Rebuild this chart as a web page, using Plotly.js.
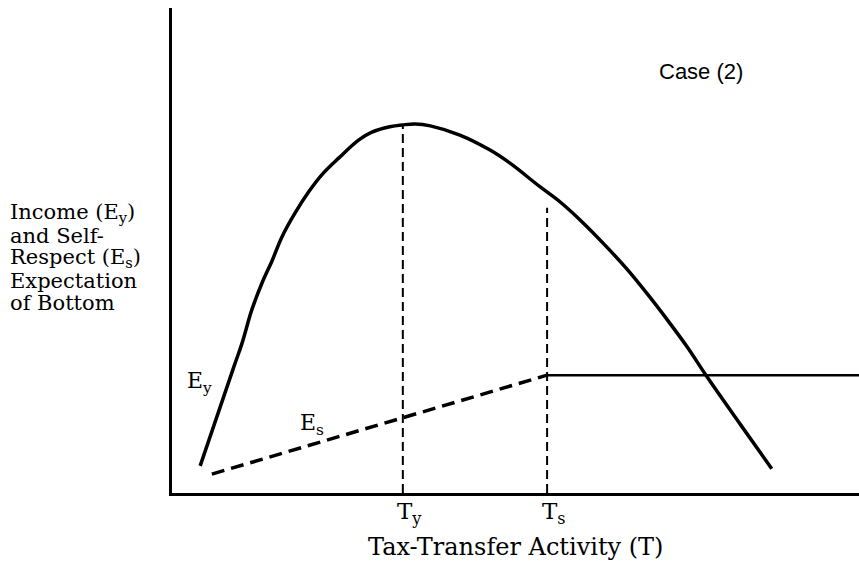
<!DOCTYPE html>
<html>
<head>
<meta charset="utf-8">
<script src="https://cdn.plot.ly/plotly-3.0.1.min.js"></script>
<style>html,body{margin:0;padding:0;background:#fff;}#chart{width:859px;height:562px;}</style>
</head>
<body>
<div id="chart"></div>
<script>
// Tax-transfer activity (T) and expectations (E), arbitrary units 0-100
const eyT = [4.1, 9.0, 10.2, 11.6, 13.1, 14.6, 16.0, 17.9, 19.9, 21.8, 24.3, 27.2, 29.1, 31.7, 33.6, 35.4, 37.6, 41.9, 46.3, 49.2, 53.6, 56.5, 59.4, 63.3, 66.2, 69.1, 72.1, 75.0, 77.9, 82.7, 87.3];
const eyE = [5.6, 26.0, 30.9, 37.7, 43.3, 48.0, 52.8, 57.7, 62.1, 65.6, 69.1, 72.8, 74.4, 75.5, 75.9, 76.1, 75.7, 73.8, 70.7, 68.0, 63.1, 60.0, 56.3, 50.7, 46.2, 41.2, 35.7, 30.1, 23.9, 14.2, 5.0];
const esRiseT = [5.8, 54.6];
const esRiseE = [3.9, 24.3];
const esFlatT = [54.6, 100];
const esFlatE = [24.3, 24.3];
const Ty = 33.6, TyTop = 75.9;
const Ts = 54.6, TsTop = 58.8;
const yLabelLines = ["Income (E<sub>y</sub>)", "and Self-", "Respect (E<sub>s</sub>)", "Expectation", "of Bottom"];
const xTitle = "Tax-Transfer Activity (T)";
const caseLabel = "Case (2)";

const serif = "DejaVu Serif";
const traces = [
  {x: eyT, y: eyE, mode: "lines", line: {color: "#000", width: 3.5, shape: "spline", smoothing: 1.0}, hoverinfo: "skip"},
  {x: esRiseT, y: esRiseE, mode: "lines", line: {color: "#000", width: 3.5, dash: "13px,7px"}, hoverinfo: "skip"},
  {x: esFlatT, y: esFlatE, mode: "lines", line: {color: "#000", width: 2.5}, hoverinfo: "skip"},
  {x: [Ty, Ty], y: [0, TyTop], mode: "lines", line: {color: "#000", width: 2, dash: "9px,5px"}, hoverinfo: "skip"},
  {x: [Ts, Ts], y: [0, TsTop], mode: "lines", line: {color: "#000", width: 2, dash: "9px,5px"}, hoverinfo: "skip"}
];

const ann = [];
yLabelLines.forEach((t, i) => {
  ann.push({xref: "paper", yref: "paper", x: -0.2387, y: 1 - (213 + i * 22.5 - 8) / 485,
    xanchor: "left", yanchor: "middle", text: t, showarrow: false,
    font: {family: serif, size: 21, color: "#000"}});
});
ann.push({xref: "x", yref: "paper", x: Ty, y: 0, yanchor: "middle", yshift: -20, xshift: 7, text: "T<sub>y</sub>", showarrow: false,
  font: {family: serif, size: 23, color: "#000"}});
ann.push({xref: "x", yref: "paper", x: Ts, y: 0, yanchor: "middle", yshift: -20, xshift: 7, text: "T<sub>s</sub>", showarrow: false,
  font: {family: serif, size: 23, color: "#000"}});
ann.push({xref: "paper", yref: "paper", x: 0.5, y: 0, xanchor: "center", yanchor: "middle", yshift: -54, text: xTitle, showarrow: false,
  font: {family: serif, size: 24, color: "#000"}});
ann.push({xref: "x", yref: "y", x: 1.9, y: (493 - 382) / 4.85, text: "E<sub>y</sub>", showarrow: false,
  xanchor: "left", yanchor: "middle", font: {family: serif, size: 22, color: "#000"}});
ann.push({xref: "x", yref: "y", x: 18.3, y: (493 - 424) / 4.85, text: "E<sub>s</sub>", showarrow: false,
  xanchor: "left", yanchor: "middle", font: {family: serif, size: 22, color: "#000"}});
ann.push({xref: "paper", yref: "paper", x: (701 - 172) / 687, y: 1 - (72 - 8) / 485, xanchor: "center", yanchor: "middle",
  text: caseLabel, showarrow: false, font: {family: "Liberation Sans", size: 22, color: "#000"}});

const layout = {
  width: 859, height: 562,
  margin: {l: 172, r: 0, t: 8, b: 69},
  paper_bgcolor: "#fff", plot_bgcolor: "#fff",
  showlegend: false,
  xaxis: {range: [0, 100], showgrid: false, zeroline: false, showticklabels: false, ticks: "",
    showline: true, linecolor: "#000", linewidth: 3, fixedrange: true},
  yaxis: {range: [0, 100], showgrid: false, zeroline: false, showticklabels: false, ticks: "",
    showline: true, linecolor: "#000", linewidth: 3, fixedrange: true},
  annotations: ann
};

Plotly.newPlot("chart", traces, layout, {staticPlot: true, displayModeBar: false});
</script>
</body>
</html>
